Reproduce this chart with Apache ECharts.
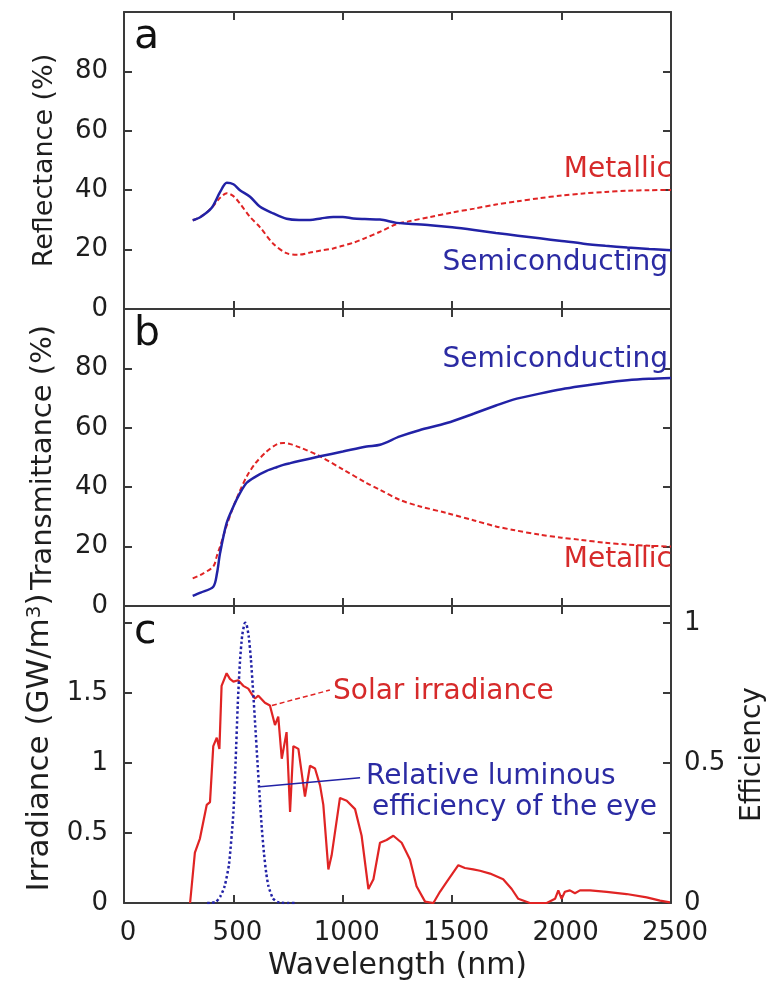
<!DOCTYPE html>
<html>
<head>
<meta charset="utf-8">
<script src="https://cdn.jsdelivr.net/npm/echarts@6/dist/echarts.min.js"></script>
<style>
  html, body { margin: 0; padding: 0; background: #ffffff; }
  #chart { width: 775px; height: 982px; }
</style>
</head>
<body>
<div id="chart"></div>
<script>
// ---- Panel a: reflectance (%) ----
const reflWavelength = [314, 350, 400, 440, 470, 500, 530, 576, 622, 682, 743, 800, 850, 900, 956, 1000, 1048, 1100, 1170, 1246, 1300, 1400, 1500, 1600, 1700, 1800, 1900, 2000, 2100, 2200, 2300, 2400, 2500];
const reflSemiconducting = [29.9, 31.0, 34.0, 39.5, 42.5, 42.0, 40.0, 37.8, 34.4, 32.2, 30.4, 30.0, 30.0, 30.5, 31.0, 31.0, 30.5, 30.3, 30.1, 29.0, 28.7, 28.2, 27.5, 26.6, 25.6, 24.7, 23.8, 22.9, 22.0, 21.3, 20.7, 20.2, 19.8];
const reflMetallic = [29.9, 31.0, 34.0, 37.5, 39.0, 38.0, 35.5, 31.0, 27.5, 22.0, 18.8, 18.3, 19.0, 19.7, 20.4, 21.3, 22.3, 23.8, 26.0, 28.6, 29.5, 31.0, 32.5, 33.8, 35.2, 36.3, 37.3, 38.2, 38.9, 39.4, 39.8, 40.0, 40.1];

// ---- Panel b: transmittance (%) ----
const transWavelength = [314, 350, 408, 425, 439, 469, 500, 530, 561, 600, 652, 700, 728, 760, 800, 896, 1000, 1109, 1170, 1261, 1350, 1475, 1600, 1700, 1779, 1900, 2000, 2084, 2200, 2300, 2400, 2500];
const transSemiconducting = [3.4, 4.5, 6.5, 11.0, 17.8, 27.9, 33.5, 38.0, 41.5, 43.5, 45.5, 46.8, 47.5, 48.1, 48.8, 50.4, 52.0, 53.7, 54.3, 57.1, 59.2, 61.6, 64.8, 67.5, 69.5, 71.5, 73.0, 74.0, 75.2, 76.0, 76.5, 76.8];
const transMetallic = [9.3, 10.5, 13.3, 17.0, 20.0, 27.0, 33.5, 38.8, 43.6, 48.0, 52.0, 54.5, 54.9, 54.5, 53.5, 50.4, 46.0, 41.4, 39.1, 35.7, 33.6, 31.3, 28.8, 26.8, 25.6, 24.0, 23.0, 22.3, 21.3, 20.7, 20.3, 20.0];

// ---- Panel c: solar irradiance (GW/m^3) ----
const solarWavelength = [302, 324, 347, 378, 393, 408, 424, 436, 446, 469, 484, 500, 522, 545, 568, 584, 599, 614, 644, 667, 690, 705, 721, 743, 759, 774, 797, 827, 850, 873, 896, 911, 934, 949, 987, 1018, 1056, 1086, 1117, 1140, 1170, 1200, 1231, 1269, 1307, 1337, 1376, 1414, 1444, 1475, 1528, 1558, 1596, 1627, 1673, 1733, 1772, 1802, 1855, 1932, 1970, 1985, 2000, 2015, 2038, 2061, 2084, 2130, 2206, 2297, 2389, 2450, 2495];
const solarIrradiance = [0.0, 0.36, 0.46, 0.70, 0.72, 1.12, 1.18, 1.10, 1.55, 1.64, 1.60, 1.58, 1.59, 1.55, 1.53, 1.49, 1.46, 1.48, 1.43, 1.41, 1.27, 1.33, 1.03, 1.22, 0.65, 1.12, 1.10, 0.76, 0.98, 0.96, 0.84, 0.70, 0.24, 0.34, 0.75, 0.73, 0.67, 0.48, 0.10, 0.17, 0.43, 0.45, 0.48, 0.43, 0.31, 0.12, 0.01, 0.0, 0.08, 0.15, 0.27, 0.25, 0.24, 0.23, 0.21, 0.17, 0.10, 0.03, 0.0, 0.0, 0.03, 0.09, 0.03, 0.08, 0.09, 0.07, 0.09, 0.09, 0.08, 0.064, 0.04, 0.017, 0.005];

// ---- Panel c: relative luminous efficiency of the eye ----
const eyeWavelength = [380, 400, 420, 440, 460, 480, 500, 510, 520, 530, 540, 550, 555, 560, 570, 580, 590, 600, 610, 620, 630, 640, 650, 660, 680, 700, 720, 750, 780];
const eyeEfficiency = [0.0, 0.0004, 0.004, 0.023, 0.06, 0.139, 0.323, 0.503, 0.71, 0.862, 0.954, 0.995, 1.0, 0.995, 0.952, 0.87, 0.757, 0.631, 0.503, 0.381, 0.265, 0.175, 0.107, 0.061, 0.017, 0.0041, 0.001, 0.0, 0.0];

// ---- Axis ticks ----
const wavelengthTicks = [0, 500, 1000, 1500, 2000, 2500];
const percentTicks = [0, 20, 40, 60, 80];
const irradianceTicks = [0, 0.5, 1, 1.5];
const efficiencyTicks = [0, 0.5, 1];

const pairs = (xs, ys) => xs.map((x, i) => [x, ys[i]]);

const FONT = 'DejaVu Sans';
const AXIS_COLOR = '#3a3a3a';
const RED = '#e02424';
const BLUE = '#2222a6';
const RED_TEXT = '#d62a2a';
const BLUE_TEXT = '#2b2ba3';
const INK = '#1e1e1e';

const frameLine = { show: true, onZero: false, lineStyle: { color: AXIS_COLOR, width: 2 } };
const innerTick = { show: true, inside: true, length: 8, lineStyle: { color: AXIS_COLOR, width: 2 } };
const tickLabel = { color: INK, fontSize: 26, fontFamily: FONT };

const grids = [
  { left: 124, top: 12, width: 547, height: 297 },
  { left: 124, top: 309, width: 547, height: 297 },
  { left: 124, top: 606, width: 547, height: 298 }
];

function xAxesFor(g, withLabels) {
  return [
    {
      type: 'value', gridIndex: g, position: 'bottom', min: 0, max: 2500, interval: 500,
      axisLine: frameLine, axisTick: innerTick, splitLine: { show: false },
      axisLabel: withLabels
        ? Object.assign({ margin: 17, padding: [0, 0, 0, 8], formatter: v => wavelengthTicks.includes(v) ? String(v) : '' }, tickLabel)
        : { show: false },
      name: withLabels ? 'Wavelength (nm)' : '',
      nameLocation: 'middle', nameGap: 48,
      nameTextStyle: { fontSize: 30, fontFamily: FONT, color: INK }
    },
    {
      type: 'value', gridIndex: g, position: 'top', min: 0, max: 2500, interval: 500,
      axisLine: frameLine, axisTick: innerTick, splitLine: { show: false },
      axisLabel: { show: false }
    }
  ];
}

function percentYAxes(g, title, size) {
  return [
    {
      type: 'value', gridIndex: g, position: 'left', min: 0, max: 100, interval: 20,
      axisLine: frameLine, axisTick: innerTick, splitLine: { show: false },
      axisLabel: Object.assign({ margin: 16, formatter: v => percentTicks.includes(v) ? String(v) : '' }, tickLabel),
      name: title, nameLocation: 'middle', nameGap: 66,
      nameTextStyle: { fontSize: size, fontFamily: FONT, color: INK }
    },
    {
      type: 'value', gridIndex: g, position: 'right', min: 0, max: 100, interval: 20,
      axisLine: frameLine, axisTick: innerTick, splitLine: { show: false },
      axisLabel: { show: false }
    }
  ];
}

const yAxes = [
  ...percentYAxes(0, 'Reflectance (%)', 27),
  ...percentYAxes(1, 'Transmittance (%)', 29),
  {
    type: 'value', gridIndex: 2, position: 'left', min: 0, max: 2.12, interval: 0.5,
    axisLine: frameLine, axisTick: innerTick, splitLine: { show: false },
    axisLabel: Object.assign({ margin: 16, formatter: v => irradianceTicks.includes(v) ? String(v) : '' }, tickLabel),
    name: '{t|Irradiance (GW/m}{s|3}{t|)}', nameLocation: 'middle', nameGap: 64,
    nameTextStyle: {
      padding: [0, 0, 0, 24],
      rich: {
        t: { fontSize: 31, fontFamily: FONT, color: INK },
        s: { fontSize: 20, fontFamily: FONT, color: INK, verticalAlign: 'top', padding: [0, 0, 11, 0] }
      }
    }
  },
  {
    type: 'value', gridIndex: 2, position: 'right', min: 0, max: 1.06, interval: 0.25,
    axisLine: frameLine, axisTick: innerTick, splitLine: { show: false },
    axisLabel: Object.assign({ margin: 13, formatter: v => efficiencyTicks.includes(v) ? String(v) : '' }, tickLabel),
    name: 'Efficiency', nameLocation: 'middle', nameGap: 68, nameRotate: 90,
    nameTextStyle: { fontSize: 28, fontFamily: FONT, color: INK }
  }
];

const xAxes = [...xAxesFor(0, false), ...xAxesFor(1, false), ...xAxesFor(2, true)];

function textMark(text, x, y, color, size, align) {
  return {
    type: 'text', x: x, y: y, z: 100,
    style: { text: text, fill: color, fontSize: size, fontFamily: FONT, align: align || 'left', verticalAlign: 'middle' }
  };
}

const option = {
  animation: false,
  backgroundColor: '#ffffff',
  textStyle: { fontFamily: FONT },
  grid: grids,
  xAxis: xAxes,
  yAxis: yAxes,
  series: [
    {
      type: 'line', xAxisIndex: 0, yAxisIndex: 0, data: pairs(reflWavelength, reflMetallic),
      showSymbol: false, smooth: 0.3, lineStyle: { color: RED, width: 2, type: [5, 3] }
    },
    {
      type: 'line', xAxisIndex: 0, yAxisIndex: 0, data: pairs(reflWavelength, reflSemiconducting),
      showSymbol: false, smooth: 0.3, lineStyle: { color: BLUE, width: 2.5 }
    },
    {
      type: 'line', xAxisIndex: 2, yAxisIndex: 2, data: pairs(transWavelength, transMetallic),
      showSymbol: false, smooth: 0.3, lineStyle: { color: RED, width: 2, type: [5, 3] }
    },
    {
      type: 'line', xAxisIndex: 2, yAxisIndex: 2, data: pairs(transWavelength, transSemiconducting),
      showSymbol: false, smooth: 0.3, lineStyle: { color: BLUE, width: 2.5 }
    },
    {
      type: 'line', xAxisIndex: 4, yAxisIndex: 4, data: pairs(solarWavelength, solarIrradiance),
      showSymbol: false, lineStyle: { color: RED, width: 2.2 },
      markLine: {
        silent: true, symbol: 'none', label: { show: false },
        lineStyle: { color: RED, width: 1.5, type: [5, 3] },
        data: [[{ coord: [676, 1.41] }, { coord: [941, 1.52] }]]
      }
    },
    {
      type: 'line', xAxisIndex: 4, yAxisIndex: 5, data: pairs(eyeWavelength, eyeEfficiency),
      showSymbol: false, smooth: 0.2, lineStyle: { color: BLUE, width: 2.5, type: [2.5, 2.5] },
      markLine: {
        silent: true, symbol: 'none', label: { show: false },
        lineStyle: { color: BLUE, width: 1.5, type: 'solid' },
        data: [[{ coord: [622, 0.415] }, { coord: [1079, 0.447] }]]
      }
    }
  ],
  graphic: [
    textMark('a', 134, 37, '#111111', 41),
    textMark('b', 134, 334, '#111111', 41),
    textMark('c', 134, 632, '#111111', 41),
    textMark('Metallic', 672, 170, RED_TEXT, 28, 'right'),
    textMark('Semiconducting', 668, 263, BLUE_TEXT, 28, 'right'),
    textMark('Semiconducting', 668, 360, BLUE_TEXT, 28, 'right'),
    textMark('Metallic', 672, 560, RED_TEXT, 28, 'right'),
    textMark('Solar irradiance', 333, 692, RED_TEXT, 28),
    textMark('Relative luminous', 366, 777, BLUE_TEXT, 28),
    textMark('efficiency of the eye', 372, 808, BLUE_TEXT, 28)
  ]
};

const chart = echarts.init(document.getElementById('chart'), null, { renderer: 'canvas' });
chart.setOption(option);
</script>
</body>
</html>
